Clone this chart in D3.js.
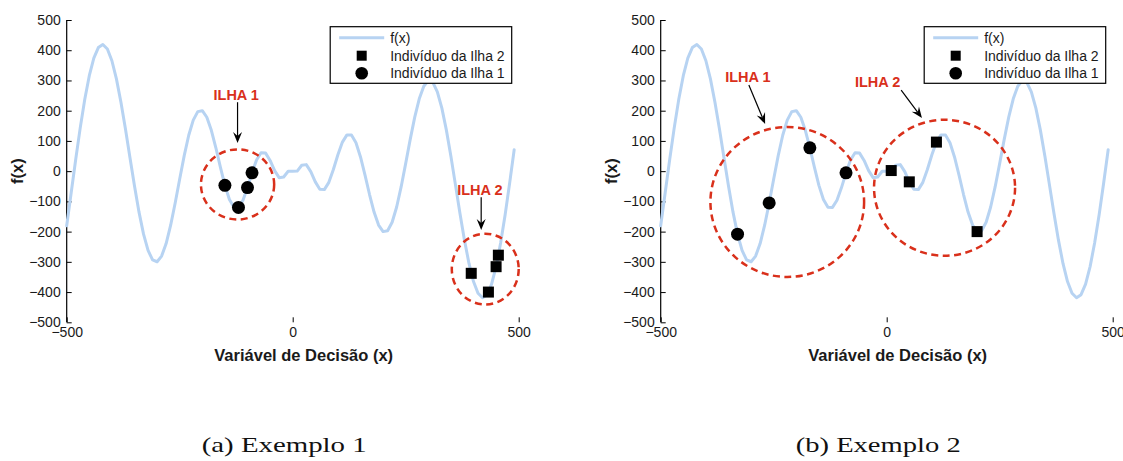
<!DOCTYPE html>
<html>
<head>
<meta charset="utf-8">
<script src="https://cdn.jsdelivr.net/npm/d3@7"></script>
<style>
  html, body { margin: 0; padding: 0; background: #ffffff; }
  svg { display: block; }
</style>
</head>
<body>
<svg id="chart" width="1123" height="461"></svg>
<script>
// ---------- data ----------
const xValues = [
  -500,-490,-480,-470,-460,-450,-440,-430,-420,-410,
  -400,-390,-380,-370,-360,-350,-340,-330,-320,-310,
  -300,-290,-280,-270,-260,-250,-240,-230,-220,-210,
  -200,-190,-180,-170,-160,-150,-140,-130,-120,-110,
  -100,-90,-80,-70,-60,-50,-40,-30,-20,-10,
  0,10,20,30,40,50,60,70,80,90,
  100,110,120,130,140,150,160,170,180,190,
  200,210,220,230,240,250,260,270,280,290,
  300,310,320,330,340,350,360,370,380,390,
  400,410,420,430,440,450,460,470,480,490
];
const fValues = [
  -180.6,-70.7,39.4,144.1,237.9,315.8,373.8,408.7,418.9,404.0,
  365.2,305.2,228.2,139.2,44.6,-49.3,-135.7,-208.4,-262.3,-293.5,
  -299.7,-281.0,-239.4,-178.8,-105.2,-25.8,51.4,118.7,168.9,197.0,
  200.0,178.3,135.2,77.3,13.2,-47.0,-93.8,-119.4,-119.9,-96.1,
  -54.4,-5.6,37.0,61.0,59.7,35.4,1.7,-21.6,-19.4,-0.2,
  0,0.2,19.4,21.6,-1.7,-35.4,-59.7,-61.0,-37.0,5.6,
  54.4,96.1,119.9,119.4,93.8,47.0,-13.2,-77.3,-135.2,-178.3,
  -200.0,-197.0,-168.9,-118.7,-51.4,25.8,105.2,178.8,239.4,281.0,
  299.7,293.5,262.3,208.4,135.7,49.3,-44.6,-139.2,-228.2,-305.2,
  -365.2,-404.0,-418.9,-408.7,-373.8,-315.8,-237.9,-144.1,-39.4,70.7
];

// Example 1 individuals
const ex1Island1X = [-150, -120, -100, -90];
const ex1Island1Y = [-47.0, -119.9, -54.4, -5.6];
const ex1Island2X = [395, 433, 450, 455];
const ex1Island2Y = [-338, -400, -316, -278];

// Example 2 individuals
const ex2Island1X = [-330, -260, -170, -90];
const ex2Island1Y = [-208.4, -105.2, 77.3, -5.6];
const ex2Island2X = [10, 50, 110, 200];
const ex2Island2Y = [2, -35.4, 96.1, -200.0];

const xTicks = [-500, 0, 500];
const yTicks = [-500, -400, -300, -200, -100, 0, 100, 200, 300, 400, 500];
const legendLabels = ["f(x)", "Indivíduo da Ilha 2", "Indivíduo da Ilha 1"];
const xAxisTitle = "Variável de Decisão (x)";
const yAxisTitle = "f(x)";
const captions = ["(a) Exemplo 1", "(b) Exemplo 2"];

// annotations (data units): island ellipses, labels and arrows
const ex1Islands = [
  {label: "ILHA 1", cx: -122, cy: -44, rx: 81, ry: 116, lx: -125, ly: 252, ax1: -122, ay1: 228, ax2: -122, ay2: 93},
  {label: "ILHA 2", cx: 426, cy: -324, rx: 74, ry: 117, lx: 414, ly: -61, ax1: 417, ay1: -86, ax2: 417, ay2: -195}
];
const ex2Islands = [
  {label: "ILHA 1", cx: -220, cy: -102, rx: 170, ry: 248, lx: -307, ly: 310, ax1: -305, ay1: 285, ax2: -269, ay2: 156},
  {label: "ILHA 2", cx: 128, cy: -55, rx: 156, ry: 225, lx: -20, ly: 296, ax1: 32, ay1: 268, ax2: 78, ay2: 176}
];

// ---------- styles ----------
const curveColor = "#b7d3f2";
const red = "#d9301b";
const sans = "'Liberation Sans', Arial, Helvetica, sans-serif";
const serif = "'Liberation Serif', 'Times New Roman', serif";

const svg = d3.select("#chart");

function zip(xs, ys) { return xs.map((x, i) => [x, ys[i]]); }

function drawPanel(left, island1, island2, islands, caption) {
  const plotW = 452, top = 20, bottom = 322.3;
  const x = d3.scaleLinear().domain([-500, 500]).range([left, left + plotW]);
  const y = d3.scaleLinear().domain([-500, 500]).range([bottom, top]);
  const g = svg.append("g").style("font-family", sans);

  // axes
  const yAxis = d3.axisLeft(y).tickValues(yTicks).tickSize(-5).tickPadding(6);
  const gy = g.append("g").attr("transform", `translate(${left},0)`).call(yAxis);
  const xAxis = d3.axisBottom(x).tickValues(xTicks).tickSize(-5).tickPadding(5).tickFormat(d3.format("d"));
  const gx = g.append("g").attr("transform", `translate(0,${bottom})`).call(xAxis);
  [gx, gy].forEach(a => {
    a.attr("font-family", null).attr("font-size", null);
    a.select(".domain").attr("stroke", "#000").attr("stroke-width", 1.2);
    a.selectAll(".tick line").attr("stroke", "#000").attr("stroke-width", 1);
    a.selectAll("text").style("font-size", "14px").style("font-family", sans).attr("fill", "#1a1a1a");
  });
  gx.select(".domain").attr("d", `M${left},${bottom}H${left + plotW}`);
  gy.select(".domain").attr("d", `M0,${top}V${bottom}`);

  // titles
  g.append("text").attr("x", left + plotW / 2 + 11).attr("y", 361)
    .attr("text-anchor", "middle").style("font-size", "16.5px").style("font-weight", "bold")
    .attr("fill", "#1a1a1a").text(xAxisTitle);
  g.append("text").attr("transform", `translate(${left - 50},${y(0)}) rotate(-90)`)
    .attr("text-anchor", "middle").attr("dominant-baseline", "central")
    .style("font-size", "16.5px").style("font-weight", "bold")
    .attr("fill", "#1a1a1a").text(yAxisTitle);

  // curve
  const line = d3.line().x(d => x(d[0])).y(d => y(d[1]));
  g.append("path").datum(zip(xValues, fValues))
    .attr("d", line).attr("fill", "none").attr("stroke", curveColor)
    .attr("stroke-width", 3).attr("stroke-linejoin", "round").attr("stroke-linecap", "round");

  // island ellipses
  islands.forEach(isl => {
    const cx = x(isl.cx), cy = y(isl.cy);
    const rx = x(isl.cx + isl.rx) - cx, ry = cy - y(isl.cy + isl.ry);
    g.append("ellipse").attr("cx", cx).attr("cy", cy).attr("rx", rx).attr("ry", ry)
      .attr("fill", "none").attr("stroke", red).attr("stroke-width", 2.5)
      .attr("stroke-dasharray", "7,4.5");
  });

  // markers
  const sq = 11;
  g.selectAll(null).data(zip(island2[0], island2[1])).enter().append("rect")
    .attr("x", d => x(d[0]) - sq / 2).attr("y", d => y(d[1]) - sq / 2)
    .attr("width", sq).attr("height", sq).attr("fill", "#000");
  g.selectAll(null).data(zip(island1[0], island1[1])).enter().append("circle")
    .attr("cx", d => x(d[0])).attr("cy", d => y(d[1])).attr("r", 6.5).attr("fill", "#000");

  // labels and arrows
  islands.forEach(isl => {
    g.append("text").attr("x", x(isl.lx)).attr("y", y(isl.ly))
      .attr("text-anchor", "middle").attr("dominant-baseline", "central")
      .style("font-size", "14.5px").style("font-weight", "bold").attr("fill", red).text(isl.label);
    const x1 = x(isl.ax1), y1 = y(isl.ay1), x2 = x(isl.ax2), y2 = y(isl.ay2);
    const ang = Math.atan2(y2 - y1, x2 - x1);
    const L = 11, W = 4.5, N = 7;
    const ux = Math.cos(ang), uy = Math.sin(ang), px = -uy, py = ux;
    g.append("line").attr("x1", x1).attr("y1", y1)
      .attr("x2", x2 - ux * N).attr("y2", y2 - uy * N)
      .attr("stroke", "#000").attr("stroke-width", 1.2);
    const pts = [
      [x2, y2],
      [x2 - ux * L + px * W, y2 - uy * L + py * W],
      [x2 - ux * N, y2 - uy * N],
      [x2 - ux * L - px * W, y2 - uy * L - py * W]
    ];
    g.append("path").attr("d", "M" + pts.map(p => p.join(",")).join("L") + "Z").attr("fill", "#000");
  });

  // legend
  const lx = left + 263.5, ly = 26.7, lw = 181.5, lh = 56.6;
  const lg = g.append("g");
  lg.append("rect").attr("x", lx).attr("y", ly).attr("width", lw).attr("height", lh)
    .attr("fill", "#fff").attr("stroke", "#000").attr("stroke-width", 1.2);
  const rows = [ly + 11, ly + 29, ly + 46.6];
  lg.append("line").attr("x1", lx + 9).attr("x2", lx + 54).attr("y1", rows[0]).attr("y2", rows[0])
    .attr("stroke", curveColor).attr("stroke-width", 3);
  lg.append("rect").attr("x", lx + 31.5 - 5).attr("y", rows[1] - 5).attr("width", 10).attr("height", 10).attr("fill", "#000");
  lg.append("circle").attr("cx", lx + 31.5).attr("cy", rows[2]).attr("r", 6.3).attr("fill", "#000");
  legendLabels.forEach((t, i) => {
    lg.append("text").attr("x", lx + 60).attr("y", rows[i]).attr("dominant-baseline", "central")
      .style("font-size", "14px").attr("fill", "#1a1a1a").text(t);
  });

  // caption
  svg.append("text").attr("x", left + plotW / 2 - 8.5 - 82.5).attr("y", 452)
    .attr("textLength", 165).attr("lengthAdjust", "spacingAndGlyphs")
    .style("font-family", serif).style("font-size", "22px").attr("fill", "#111").text(caption);
}

drawPanel(66.7, [ex1Island1X, ex1Island1Y], [ex1Island2X, ex1Island2Y], ex1Islands, captions[0]);
drawPanel(660.7, [ex2Island1X, ex2Island1Y], [ex2Island2X, ex2Island2Y], ex2Islands, captions[1]);
</script>
</body>
</html>
